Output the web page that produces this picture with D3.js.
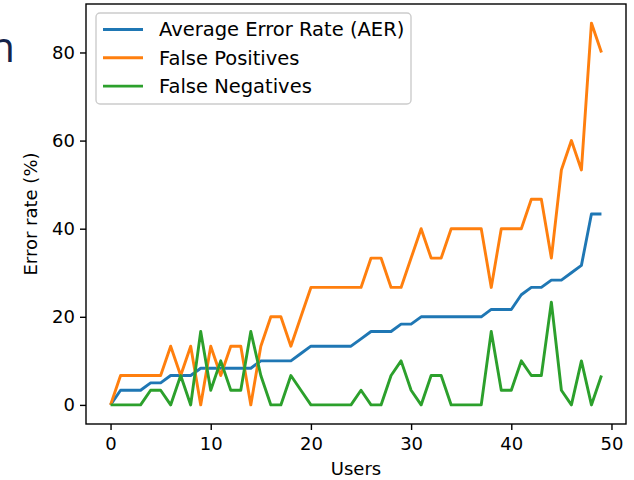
<!DOCTYPE html>
<html>
<head>
<meta charset="utf-8">
<script src="https://cdn.jsdelivr.net/npm/d3@7"></script>
<style>
  body { margin: 0; background: #fff; }
  svg { display: block; }
</style>
</head>
<body>
<svg id="chart" width="634" height="480"></svg>
<script>
// User index on the x axis
const users = [0, 1, 2, 3, 4, 5, 6, 7, 8, 9, 10, 11, 12, 13, 14, 15, 16, 17, 18, 19,
  20, 21, 22, 23, 24, 25, 26, 27, 28, 29, 30, 31, 32, 33, 34, 35, 36, 37, 38, 39,
  40, 41, 42, 43, 44, 45, 46, 47, 48, 49];

// Average error rate per user (%)
const aer = [0, 3.33, 3.33, 3.33, 5, 5, 6.67, 6.67, 6.67, 8.33,
  8.33, 8.33, 8.33, 8.33, 8.33, 10, 10, 10, 10, 11.67,
  13.33, 13.33, 13.33, 13.33, 13.33, 15, 16.67, 16.67, 16.67, 18.33,
  18.33, 20, 20, 20, 20, 20, 20, 20, 21.67, 21.67,
  21.67, 25, 26.67, 26.67, 28.33, 28.33, 30, 31.67, 43.33, 43.33];

// False positive rate per user (%)
const falsePos = [0, 6.67, 6.67, 6.67, 6.67, 6.67, 13.33, 6.67, 13.33, 0,
  13.33, 6.67, 13.33, 13.33, 0, 13.33, 20, 20, 13.33, 20,
  26.67, 26.67, 26.67, 26.67, 26.67, 26.67, 33.33, 33.33, 26.67, 26.67,
  33.33, 40, 33.33, 33.33, 40, 40, 40, 40, 26.67, 40,
  40, 40, 46.67, 46.67, 33.33, 53.33, 60, 53.33, 86.67, 80];

// False negative rate per user (%)
const falseNeg = [0, 0, 0, 0, 3.33, 3.33, 0, 6.67, 0, 16.67,
  3.33, 10, 3.33, 3.33, 16.67, 6.67, 0, 0, 6.67, 3.33,
  0, 0, 0, 0, 0, 3.33, 0, 0, 6.67, 10,
  3.33, 0, 6.67, 6.67, 0, 0, 0, 0, 16.67, 3.33,
  3.33, 10, 6.67, 6.67, 23.33, 3.33, 0, 10, 0, 6.67];

const seriesNames = ["Average Error Rate (AER)", "False Positives", "False Negatives"];
const seriesColors = ["#1f77b4", "#ff7f0e", "#2ca02c"];
const xTicks = [0, 10, 20, 30, 40, 50];
const yTicks = [0, 20, 40, 60, 80];

const series = [aer, falsePos, falseNeg].map((vals, k) => ({
  name: seriesNames[k],
  color: seriesColors[k],
  points: users.map((u, i) => ({ x: u, y: vals[i] }))
}));

const svg = d3.select("#chart");
const font = "'DejaVu Sans', sans-serif";

// Plot area
const plotL = 86, plotR = 626, plotT = 4, plotB = 424;

// 5% padding around the data extent on both axes
const xMin = d3.min(users), xMax = d3.max(users);
const xPad = (xMax - xMin) * 0.05;
const allY = aer.concat(falsePos, falseNeg);
const yMin = d3.min(allY), yMax = d3.max(allY);
const yPad = (yMax - yMin) * 0.05;

const x = d3.scaleLinear().domain([xMin - xPad, xMax + xPad]).range([plotL, plotR]);
const y = d3.scaleLinear().domain([yMin - yPad, yMax + yPad]).range([plotB, plotT]);

// Partial slide title glyph at the left edge
svg.append("text")
  .attr("x", 15).attr("y", 62)
  .attr("text-anchor", "end")
  .attr("font-family", "'Open Sans', sans-serif")
  .attr("font-size", 42)
  .attr("fill", "#14234a")
  .text("n");

// Axes
const xAxis = d3.axisBottom(x).tickValues(xTicks).tickSize(6).tickPadding(5).tickFormat(d3.format("d"));
const yAxis = d3.axisLeft(y).tickValues(yTicks).tickSize(6).tickPadding(5).tickFormat(d3.format("d"));

const gx = svg.append("g").attr("transform", `translate(0,${plotB})`).call(xAxis);
const gy = svg.append("g").attr("transform", `translate(${plotL},0)`).call(yAxis);
[gx, gy].forEach(g => {
  g.select(".domain").remove();
  g.selectAll(".tick line").attr("stroke", "#000").attr("stroke-width", 1.4);
  g.selectAll(".tick text").attr("fill", "#000").attr("font-family", font).attr("font-size", 18);
});
gx.selectAll(".tick text").attr("dy", "0.85em");

// Lines
const line = d3.line().x(d => x(d.x)).y(d => y(d.y));
svg.append("g").selectAll("path")
  .data(series)
  .join("path")
  .attr("d", d => line(d.points))
  .attr("fill", "none")
  .attr("stroke", d => d.color)
  .attr("stroke-width", 2.9)
  .attr("stroke-linejoin", "round")
  .attr("stroke-linecap", "butt");

// Frame
svg.append("rect")
  .attr("x", plotL).attr("y", plotT)
  .attr("width", plotR - plotL).attr("height", plotB - plotT)
  .attr("fill", "none").attr("stroke", "#000").attr("stroke-width", 1.4);

// Axis labels
svg.append("text")
  .attr("x", (plotL + plotR) / 2).attr("y", 475)
  .attr("text-anchor", "middle")
  .attr("font-family", font).attr("font-size", 18)
  .text("Users");

svg.append("text")
  .attr("transform", `translate(37,${(plotT + plotB) / 2}) rotate(-90)`)
  .attr("text-anchor", "middle")
  .attr("font-family", font).attr("font-size", 18)
  .text("Error rate (%)");

// Legend
const legend = svg.append("g");
legend.append("rect")
  .attr("x", 96).attr("y", 13)
  .attr("width", 315).attr("height", 91)
  .attr("rx", 4)
  .attr("fill", "#fff").attr("fill-opacity", 0.8)
  .attr("stroke", "#cccccc").attr("stroke-width", 1.4);

const rows = legend.selectAll("g.row")
  .data(series)
  .join("g")
  .attr("class", "row")
  .attr("transform", (d, i) => `translate(0,${29.5 + i * 28.3})`);
rows.append("line")
  .attr("x1", 103).attr("x2", 143)
  .attr("stroke", d => d.color).attr("stroke-width", 2.9);
rows.append("text")
  .attr("x", 159).attr("dy", "0.35em")
  .attr("font-family", font).attr("font-size", 19.5)
  .text(d => d.name);
</script>
</body>
</html>
